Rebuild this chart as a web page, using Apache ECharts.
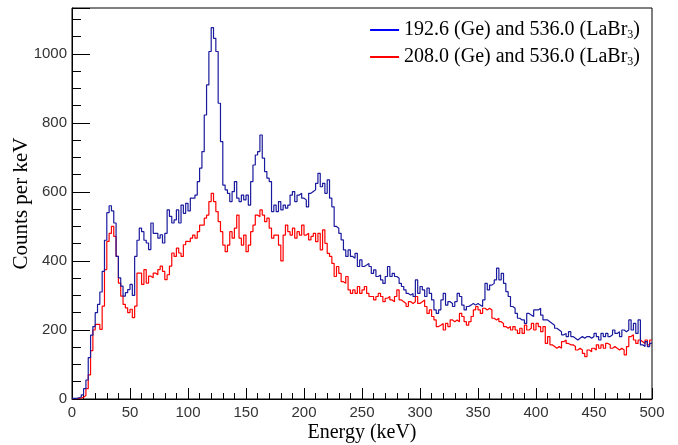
<!DOCTYPE html>
<html>
<head>
<meta charset="utf-8">
<script src="https://cdn.jsdelivr.net/npm/echarts@6/dist/echarts.min.js"></script>
<style>
    html, body { margin: 0; padding: 0; background: #fff; }
    #chart { width: 678px; height: 445px; }
</style>
</head>
<body>
<div id="chart"></div>
<script>
// bins of 2 keV (counts per keV)
const binWidth = 2;
const seriesNames = ['192.6 (Ge) and 536.0 (LaBr3)', '208.0 (Ge) and 536.0 (LaBr3)'];

const blueCounts = [
    2, 2, 3, 6, 12, 30, 55, 120, 185, 210, 250, 274, 310, 370, 460, 540, 560, 545, 510, 413,
    351, 327, 298, 308, 317, 332, 300, 413, 460, 495, 485, 460, 452, 433, 510, 480, 480, 466, 476, 452,
    480, 548, 529, 510, 519, 548, 510, 562, 538, 567,
    545, 582, 582, 591, 630, 669, 717, 823, 910, 1007, 1076, 1045, 1007, 857, 746, 620, 606, 596, 572, 601,
    630, 582, 572, 591, 577, 591, 562, 630, 678, 707, 717, 765, 698, 659, 640, 630, 543, 562, 543, 572,
    548, 562, 553, 562, 591, 601, 572, 591, 596, 582,
    577, 557, 596, 601, 606, 625, 654, 615, 625, 596, 635, 582, 557, 500, 495, 480, 461, 432, 413, 432,
    413, 408, 422, 384, 403, 384, 388, 393, 384, 364, 374, 355, 359, 345, 335, 355, 384, 355, 364, 355,
    350, 335, 326, 316, 306, 301, 306, 297, 345, 306,
    326, 316, 297, 321, 306, 287, 258, 248, 258, 287, 306, 272, 282, 277, 268, 282, 306, 297, 272, 258,
    268, 272, 277, 272, 277, 272, 268, 287, 335, 316, 330, 335, 345, 379, 345, 364, 335, 311, 297, 268,
    263, 248, 234, 229, 229, 219, 248, 243, 239, 258,
    258, 263, 243, 229, 229, 224, 219, 214, 205, 200, 195, 186, 190, 181, 195, 181, 176, 171, 176, 181,
    176, 181, 181, 176, 181, 190, 181, 171, 190, 181, 190, 181, 186, 200, 190, 195, 181, 200, 195, 200,
    229, 200, 219, 190, 229, 157, 152, 166, 152, 161
];

const redCounts = [
    1, 1, 2, 3, 5, 10, 30, 70, 140, 200, 216, 216, 202, 269, 375, 457, 480, 500, 471, 413,
    336, 298, 274, 264, 250, 260, 236, 269, 365, 365, 332, 375, 336, 356, 351, 365, 360, 375, 385, 370,
    346, 360, 385, 423, 413, 437, 423, 413, 447, 457,
    456, 466, 475, 466, 485, 504, 504, 524, 533, 572, 596, 572, 543, 514, 485, 446, 427, 446, 485, 466,
    495, 533, 466, 446, 475, 427, 446, 485, 504, 533, 528, 548, 533, 514, 524, 495, 466, 475, 475, 446,
    400, 475, 504, 485, 475, 495, 466, 485, 475, 504,
    475, 480, 461, 471, 480, 456, 480, 432, 490, 451, 422, 413, 393, 355, 384, 364, 340, 335, 355, 316,
    306, 316, 306, 326, 306, 316, 326, 306, 297, 297, 287, 297, 306, 297, 282, 292, 297, 287, 282, 297,
    316, 287, 282, 277, 268, 282, 277, 282, 297, 277,
    282, 287, 268, 248, 258, 239, 229, 210, 214, 219, 200, 219, 210, 229, 224, 229, 224, 248, 239, 224,
    214, 224, 239, 258, 268, 258, 248, 263, 258, 263, 258, 234, 229, 234, 224, 219, 210, 205, 210, 200,
    210, 200, 190, 205, 190, 214, 200, 205, 219, 200,
    219, 210, 195, 210, 161, 181, 157, 152, 147, 152, 147, 166, 171, 161, 157, 157, 152, 142, 147, 142,
    132, 123, 142, 137, 147, 142, 157, 147, 157, 147, 161, 157, 147, 152, 147, 142, 147, 142, 128, 152,
    181, 186, 171, 161, 171, 166, 161, 171, 157, 171
];

const yTickLabels = [0, 200, 400, 600, 800, 1000];
const xTickLabels = [0, 50, 100, 150, 200, 250, 300, 350, 400, 450, 500];

const serif = 'Liberation Serif';
const sans = 'Liberation Sans';
const yMax = 1133;

// left edge of each bin + closing point, drawn as steps
function toSteps(counts) {
    const pts = counts.map((v, i) => [i * binWidth, v]);
    pts.push([counts.length * binWidth, counts[counts.length - 1]]);
    return pts;
}

const chart = echarts.init(document.getElementById('chart'));
chart.setOption({
    animation: false,
    grid: {
        left: 72, right: 26, top: 8, bottom: 46,
        outerBoundsMode: 'none', containLabel: false,
        show: true, borderColor: '#000', borderWidth: 1
    },
    legend: {
        orient: 'vertical',
        right: 33,
        top: 14,
        itemWidth: 29,
        itemHeight: 2,
        itemGap: 5,
        icon: 'rect',
        selectedMode: false,
        formatter: name => name.replace('LaBr3', 'LaBr{sub|3}'),
        textStyle: {
            fontFamily: serif, fontSize: 20, color: '#000', lineHeight: 22,
            rich: { sub: { fontFamily: serif, fontSize: 12, color: '#000', lineHeight: 22, verticalAlign: 'bottom' } }
        },
        data: [
            { name: seriesNames[0], itemStyle: { color: '#0000ff' } },
            { name: seriesNames[1], itemStyle: { color: '#ff0000' } }
        ]
    },
    xAxis: {
        type: 'value',
        min: 0, max: 500, interval: 50,
        name: 'Energy (keV)',
        nameLocation: 'middle',
        nameGap: 24,
        nameMoveOverlap: false,
        nameTextStyle: { fontFamily: serif, fontSize: 20, color: '#000' },
        axisLine: { lineStyle: { color: '#000' } },
        axisTick: { inside: true, length: 11, lineStyle: { color: '#000' } },
        minorTick: { show: true, splitNumber: 5, length: 6, lineStyle: { color: '#000' } },
        splitLine: { show: false },
        axisLabel: {
            fontFamily: sans, fontSize: 15, color: '#333', margin: 6,
            formatter: v => xTickLabels.includes(v) ? String(v) : ''
        }
    },
    yAxis: [{
        type: 'value',
        min: 0, max: yMax, interval: 200,
        name: 'Counts per keV',
        nameLocation: 'middle',
        nameGap: 40,
        nameMoveOverlap: false,
        nameTextStyle: { fontFamily: serif, fontSize: 21, color: '#000' },
        axisLine: { show: true, lineStyle: { color: '#000' } },
        axisTick: { show: true, inside: true, length: 18, lineStyle: { color: '#000' } },
        splitLine: { show: false },
        axisLabel: {
            fontFamily: sans, fontSize: 15, color: '#333', margin: 5,
            formatter: v => yTickLabels.includes(v) ? String(v) : ''
        }
    }, {
        // minor ticks every 50
        type: 'value',
        position: 'left',
        min: 0, max: yMax, interval: 50,
        axisLine: { show: false },
        axisTick: { show: true, inside: true, length: 9, lineStyle: { color: '#000' } },
        splitLine: { show: false },
        axisLabel: { show: false }
    }],
    series: [
        {
            name: seriesNames[0], type: 'line', step: 'end', showSymbol: false, symbol: 'none',
            lineStyle: { color: '#1a1a9e', width: 1.2 }, itemStyle: { color: '#1a1a9e' },
            data: toSteps(blueCounts), z: 3
        },
        {
            name: seriesNames[1], type: 'line', step: 'end', showSymbol: false, symbol: 'none',
            lineStyle: { color: '#ff0000', width: 1.2 }, itemStyle: { color: '#ff0000' },
            data: toSteps(redCounts), z: 2
        }
    ]
});
</script>
</body>
</html>
